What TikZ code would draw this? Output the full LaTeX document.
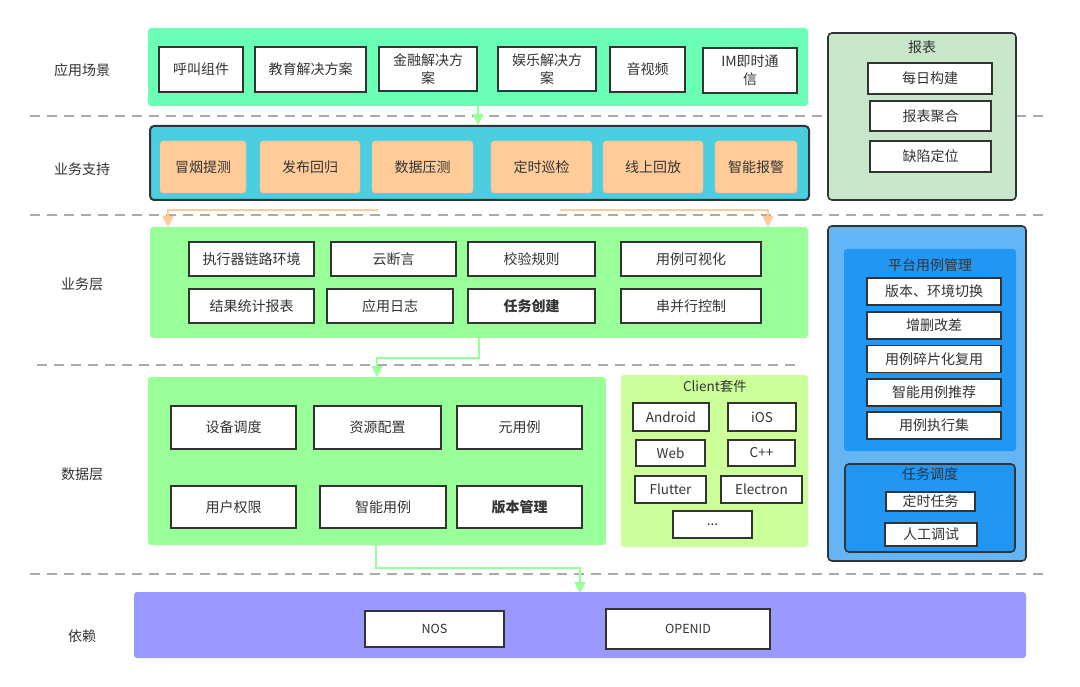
\documentclass[tikz,border=0pt]{standalone}
\usepackage{fontspec}
\setmainfont{Noto Sans CJK SC}
\usetikzlibrary{arrows.meta}
\definecolor{txt}{HTML}{333333}
\definecolor{edge}{HTML}{333333}
\definecolor{appc}{HTML}{6BFFB5}
\definecolor{supc}{HTML}{4BCFE0}
\definecolor{orc}{HTML}{FFCC99}
\definecolor{grc}{HTML}{99FF99}
\definecolor{clc}{HTML}{CCFF99}
\definecolor{puc}{HTML}{9999FF}
\definecolor{rpc}{HTML}{C8E6C9}
\definecolor{blo}{HTML}{64B5F6}
\definecolor{bli}{HTML}{2196F3}
\definecolor{dash}{HTML}{AAAAAA}
\tikzset{
  every node/.style={text=txt, font=\fontsize{14}{18}\selectfont, inner sep=0pt},
  panel/.style={draw=none, rounded corners=3pt},
  wbox/.style={draw=edge, line width=1.6pt, fill=white, align=center},
  obox/.style={fill=orc, rounded corners=3pt, draw=orc!80!black!40!orc},
  sep/.style={draw=dash, line width=1.3pt, dash pattern=on 10pt off 7pt},
  garr/.style={draw=grc, line width=2pt, -{Triangle[length=11pt,width=11pt]}},
  oarr/.style={draw=orc, line width=2pt, -{Triangle[length=11pt,width=11pt]}},
  lab/.style={font=\fontsize{14}{18}\selectfont},
  lat/.style={font=\fontsize{13.5}{16}\selectfont},
}
\begin{document}
\begin{tikzpicture}[x=1pt,y=-1pt]
\useasboundingbox[fill=white] (0,0) rectangle (1080,687);

% separators
\coordinate (s1a) at (30,116); \coordinate (s1b) at (1050,116);
\coordinate (s2a) at (30,215); \coordinate (s2b) at (1050,215);
\coordinate (s3a) at (37,365); \coordinate (s3b) at (800,365);
\coordinate (s4a) at (30,574); \coordinate (s4b) at (1050,574);
\draw[sep] (s1a) -- (s1b);
\draw[sep] (s2a) -- (s2b);
\draw[sep] (s3a) -- (s3b);
\draw[sep] (s4a) -- (s4b);

% left labels
\node[lab] (l1) at (82,70) {应用场景};
\node[lab] (l2) at (82,169) {业务支持};
\node[lab] (l3) at (82,284) {业务层};
\node[lab] (l4) at (82,474) {数据层};
\node[lab] (l5) at (82,636) {依赖};

% application scenes
\node[panel, fill=appc, minimum width=660, minimum height=78] (app) at (478,67) {};
\node[wbox, minimum width=84, minimum height=45] (a1) at (201,69.5) {呼叫组件};
\node[wbox, minimum width=111, minimum height=45] (a2) at (310.5,69.5) {教育解决方案};
\node[wbox, minimum width=98, minimum height=44] (a3) at (428,69) {金融解决方\\案};
\node[wbox, minimum width=98, minimum height=44] (a4) at (547,69) {娱乐解决方\\案};
\node[wbox, minimum width=75, minimum height=45] (a5) at (647.5,69.5) {音视频};
\node[wbox, minimum width=94, minimum height=45] (a6) at (750,70.5) {IM即时通\\信};

% support
\node[draw=edge, line width=2pt, fill=supc, rounded corners=4pt, minimum width=659, minimum height=74] (sup) at (479.5,163) {};
\node[obox, minimum width=86, minimum height=52] (b1) at (203,167) {冒烟提测};
\node[obox, minimum width=100, minimum height=52] (b2) at (310,167) {发布回归};
\node[obox, minimum width=101, minimum height=52] (b3) at (422.5,167) {数据压测};
\node[obox, minimum width=101, minimum height=52] (b4) at (541.5,167) {定时巡检};
\node[obox, minimum width=100, minimum height=52] (b5) at (653,167) {线上回放};
\node[obox, minimum width=82, minimum height=52] (b6) at (756,167) {智能报警};

\draw[garr] (app.south) -- (app.south |- sup.north);

% business layer
\node[panel, fill=grc, minimum width=658, minimum height=111] (biz) at (479,282.5) {};
\node[wbox, minimum width=125, minimum height=34] (c1) at (251.5,259) {执行器链路环境};
\node[wbox, minimum width=125, minimum height=34] (c2) at (393.5,259) {云断言};
\node[wbox, minimum width=127, minimum height=34] (c3) at (531.5,259) {校验规则};
\node[wbox, minimum width=140, minimum height=34] (c4) at (691,259) {用例可视化};
\node[wbox, minimum width=125, minimum height=34] (c5) at (251.5,306) {结果统计报表};
\node[wbox, minimum width=126, minimum height=34] (c6) at (390,306) {应用日志};
\node[wbox, minimum width=127, minimum height=34, font=\fontsize{14}{18}\selectfont\bfseries] (c7) at (531.5,306) {任务创建};
\node[wbox, minimum width=140, minimum height=34] (c8) at (691,306) {串并行控制};

% orange arrows
\coordinate (o1) at (378,210);
\coordinate (o2) at (168,227);
\coordinate (o3) at (560,210);
\coordinate (o4) at (768,227);
\draw[oarr] (o1) -| (o2);
\draw[oarr] (o3) -| (o4);

% data layer
\node[panel, fill=grc, minimum width=458, minimum height=168] (data) at (377,461) {};
\node[wbox, minimum width=125, minimum height=43] (d1) at (233.5,427.5) {设备调度};
\node[wbox, minimum width=127, minimum height=43] (d2) at (377.5,427.5) {资源配置};
\node[wbox, minimum width=125, minimum height=43] (d3) at (519.5,427.5) {元用例};
\node[wbox, minimum width=125, minimum height=42] (d4) at (233.5,507) {用户权限};
\node[wbox, minimum width=126, minimum height=42] (d5) at (383,507) {智能用例};
\node[wbox, minimum width=125, minimum height=42, font=\fontsize{14}{18}\selectfont\bfseries] (d6) at (519.5,507) {版本管理};

\coordinate (g1) at (479,338);
\coordinate (g2) at (377,377);
\draw[garr] (g1) -- ++(0,20) -| (g2);

% client kit
\node[panel, fill=clc, minimum width=187, minimum height=172] (cl) at (714.5,461) {};
\node[lat] (clt) at (715,386) {Client套件};
\node[wbox, lat, minimum width=76, minimum height=28] (e1) at (671,417) {Android};
\node[wbox, lat, minimum width=68, minimum height=28] (e2) at (762,417) {iOS};
\node[wbox, lat, minimum width=69, minimum height=26] (e3) at (670.5,453) {Web};
\node[wbox, lat, minimum width=67, minimum height=26] (e4) at (761.5,453) {C++};
\node[wbox, lat, minimum width=71, minimum height=27] (e5) at (670.5,489.5) {Flutter};
\node[wbox, lat, minimum width=81, minimum height=27] (e6) at (761.5,489.5) {Electron};
\node[wbox, lat, minimum width=79, minimum height=27] (e7) at (712.5,524.5) {...};

% dependency
\node[panel, fill=puc, minimum width=892, minimum height=66] (dep) at (580,625) {};
\node[wbox, minimum width=139, minimum height=36, font=\fontsize{12.5}{14}\selectfont] (f1) at (434.5,629) {NOS};
\node[wbox, minimum width=164, minimum height=40, font=\fontsize{12.5}{14}\selectfont] (f2) at (688,629) {OPENID};

\coordinate (h1) at (376,545);
\coordinate (h2) at (580,593);
\draw[garr] (h1) -- ++(0,23) -| (h2);

% report panel
\node[draw=edge, line width=1.6pt, fill=rpc, rounded corners=4pt, minimum width=188, minimum height=167] (rep) at (922,116.5) {};
\node[lab] (rept) at (922,47) {报表};
\node[wbox, minimum width=124, minimum height=31] (r1) at (930,78.5) {每日构建};
\node[wbox, minimum width=121, minimum height=30] (r2) at (930.5,116) {报表聚合};
\node[wbox, minimum width=121, minimum height=31] (r3) at (930.5,156.5) {缺陷定位};

% platform panel
\node[draw=edge, line width=1.6pt, fill=blo, rounded corners=4pt, minimum width=198, minimum height=335] (plat) at (927,393.5) {};
\node[panel, fill=bli, minimum width=172, minimum height=202] (pin) at (930,350) {};
\node[lab] (pint) at (930,265) {平台用例管理};
\node[wbox, minimum width=134, minimum height=27] (p1) at (934,291.5) {版本、环境切换};
\node[wbox, minimum width=134, minimum height=27] (p2) at (934,325.5) {增删改差};
\node[wbox, minimum width=134, minimum height=27] (p3) at (934,359) {用例碎片化复用};
\node[wbox, minimum width=134, minimum height=27] (p4) at (934,392.5) {智能用例推荐};
\node[wbox, minimum width=134, minimum height=27] (p5) at (934,425.5) {用例执行集};

\node[draw=edge, line width=1.6pt, fill=bli, rounded corners=4pt, minimum width=170, minimum height=88] (sch) at (930,508) {};
\node[lab] (scht) at (930,474) {任务调度};
\node[wbox, minimum width=89, minimum height=19] (q1) at (930.5,501.5) {定时任务};
\node[wbox, minimum width=92, minimum height=23] (q2) at (931,534.5) {人工调试};
\end{tikzpicture}
\end{document}
